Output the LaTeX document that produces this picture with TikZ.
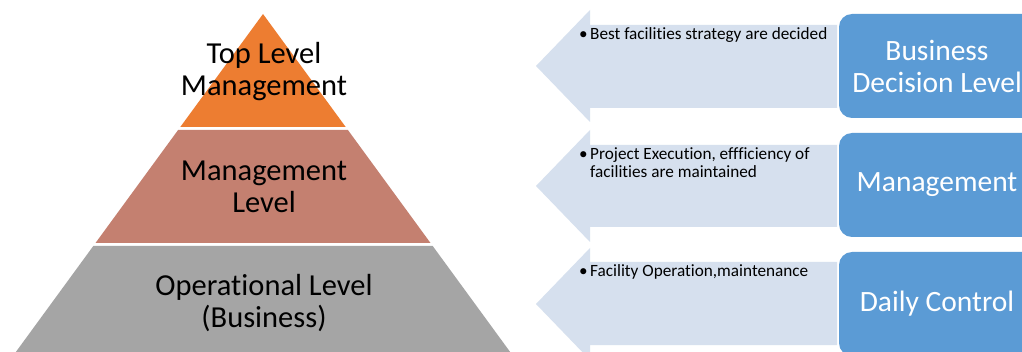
\documentclass[tikz,border=0pt]{standalone}
\usepackage{fontspec}
\setmainfont[Ligatures=NoCommon]{Carlito}
\begin{document}
\begin{tikzpicture}[x=1pt,y=-1pt,
  tiertext/.style={align=center,inner sep=0pt,font=\fontsize{30.5}{32}\selectfont},
  boxtext/.style={align=center,inner sep=0pt,text=white,font=\fontsize{29.5}{32}\selectfont},
  bullettext/.style={anchor=base west,inner sep=0pt,font=\fontsize{17.2}{18}\selectfont},
  levelbox/.style={fill=boxblue,rounded corners=13pt,minimum width=196pt,minimum height=104pt,inner sep=0pt},
  flowarrow/.style={fill=arrowblue}]
\definecolor{toporange}{HTML}{ED7D31}
\definecolor{midbrown}{HTML}{C48070}
\definecolor{basegray}{HTML}{A5A5A5}
\definecolor{arrowblue}{HTML}{D6E0EE}
\definecolor{boxblue}{HTML}{5B9BD5}
\clip (0,0) rectangle (1022,352);
\fill[white] (0,0) rectangle (1022,352);

% pyramid tiers
\fill[toporange] (263,14) -- (345.7,127) -- (180.3,127) -- cycle;
\fill[midbrown] (178.1,130) -- (347.9,130) -- (430.5,243) -- (95.5,243) -- cycle;
\fill[basegray] (93.3,246) -- (432.7,246) -- (516,360) -- (10,360) -- cycle;

\node[tiertext] (top) at (264,72) {Top Level\\Management};
\node[tiertext] (mid) at (264,187) {Management\\Level};
\node[tiertext] (base) at (264,303) {Operational Level\\(Business)};

% arrows pointing back to the pyramid
\fill[flowarrow] (837,25) -- (590,25) -- (590,10) -- (536,66) -- (590,122) -- (590,108) -- (837,108) -- cycle;
\fill[flowarrow] (837,145) -- (590,145) -- (590,130) -- (536,186) -- (590,242) -- (590,227) -- (837,227) -- cycle;
\fill[flowarrow] (837,262) -- (590,262) -- (590,248) -- (536,304) -- (590,360) -- (590,345) -- (837,345) -- cycle;

\node[bullettext] (t1) at (579,40) {\begin{tabular}[t]{@{}l@{}l@{}}\makebox[11pt][l]{•}&Best facilities strategy are decided\end{tabular}};
\node[bullettext] (t2) at (579,160) {\begin{tabular}[t]{@{}l@{}l@{}}\makebox[11pt][l]{•}&Project Execution, effficiency of\\&facilities are maintained\end{tabular}};
\node[bullettext] (t3) at (579,277) {\begin{tabular}[t]{@{}l@{}l@{}}\makebox[11pt][l]{•}&Facility Operation,maintenance\end{tabular}};

% level boxes
\node[levelbox] (b1) at (937,66) {};
\node[levelbox] (b2) at (937,185) {};
\node[levelbox] (b3) at (937,304) {};
\node[boxtext] (b1t) at (b1.center) {Business\\Decision Level};
\node[boxtext] (b2t) at (b2.center) {Management};
\node[boxtext] (b3t) at (b3.center) {Daily Control};
\end{tikzpicture}
\end{document}
